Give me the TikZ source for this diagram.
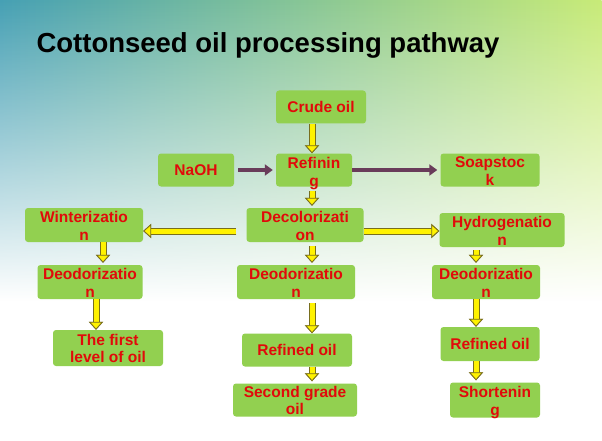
\documentclass[tikz,border=0pt]{standalone}
\usepackage{fontspec}
\setmainfont{Liberation Sans}
\usetikzlibrary{arrows.meta,fadings}
\definecolor{boxg}{RGB}{146,208,80}
\definecolor{txtr}{RGB}{225,10,10}
\definecolor{olv}{RGB}{120,110,30}
\definecolor{pur}{RGB}{105,60,90}
\tikzset{
  box/.style={draw=none,fill=boxg,rounded corners=3pt,inner sep=0pt,font=\bfseries\fontsize{15.5}{17}\selectfont,text=txtr,align=center},
  two/.style={label={[anchor=north,yshift=0pt,font=\bfseries\fontsize{15.5}{18}\selectfont,text=txtr,align=center]north:#1}},
  yarrow/.style={draw=yellow,line width=5pt,-{Triangle[length=8pt,width=14pt,fill=yellow,color=olv,line width=0.8pt]},
    preaction={draw=olv,line width=7pt,-{Triangle[length=8pt,width=14pt]}}},
  parrow/.style={draw=pur,line width=4pt,-{Triangle[length=8pt,width=11pt]}}
}
\begin{document}
\begin{tikzpicture}[x=1pt,y=-1pt]
\useasboundingbox (0,0) rectangle (602,441);
\fill[white] (0,0) rectangle (602,441);
\shade[left color={rgb,255:red,70;green,160;blue,180},right color={rgb,255:red,200;green,235;blue,120},path fading=south] (0,0) rectangle (602,300);
\node[anchor=west,font=\bfseries\fontsize{27.5}{30}\selectfont] (title) at (33,45) {Cottonseed oil processing pathway};
% boxes
\node[box,minimum width=90pt,minimum height=33pt] (crude) at (321,107) {Crude oil};
\node[box,minimum width=76pt,minimum height=33pt] (naoh) at (196,170) {NaOH};
\node[box,minimum width=76pt,minimum height=33pt,two={Refinin\\g}] (ref) at (314,170) {};
\node[box,minimum width=99pt,minimum height=33pt,two={Soapstoc\\k}] (soap) at (490,170) {};
\node[box,minimum width=117pt,minimum height=34pt,two={Decolorizati\\on}] (dec) at (305,225) {};
\node[box,minimum width=125pt,minimum height=34pt,two={Hydrogenatio\\n}] (hyd) at (502,230) {};
\node[box,minimum width=118pt,minimum height=34pt,two={Winterizatio\\n}] (win) at (84,225) {};
\node[box,minimum width=105pt,minimum height=34pt,two={Deodorizatio\\n}] (deoL) at (90,282) {};
\node[box,minimum width=118pt,minimum height=34pt,two={Deodorizatio\\n}] (deoM) at (296,282) {};
\node[box,minimum width=108pt,minimum height=34pt,two={Deodorizatio\\n}] (deoR) at (486,282) {};
\node[box,minimum width=110pt,minimum height=36pt] (first) at (108,348) {The first\\level of oil};
\node[box,minimum width=110pt,minimum height=33pt] (refM) at (297,350) {Refined oil};
\node[box,minimum width=99pt,minimum height=34pt] (refR) at (490,344) {Refined oil};
\node[box,minimum width=124pt,minimum height=33pt] (sec) at (295,400) {Second grade\\oil};
\node[box,minimum width=90pt,minimum height=35pt,two={Shortenin\\g}] (short) at (495,400) {};
% arrow columns
\coordinate (xm) at (312,0);
\coordinate (xl) at (103,0);
\coordinate (xl2) at (96,0);
\coordinate (xr) at (476,0);
\coordinate (yh) at (0,231);
% arrows
\draw[yarrow] (crude.south -| xm) -- (ref.north -| xm);
\draw[yarrow] ([yshift=-4pt]ref.south -| xm) -- ([yshift=2pt]dec.north -| xm);
\draw[yarrow] ([yshift=-4pt]dec.south -| xm) -- ([yshift=2pt]deoM.north -| xm);
\draw[yarrow] ([xshift=-10pt]dec.west |- yh) -- (win.east |- yh);
\draw[yarrow] (dec.east |- yh) -- (hyd.west |- yh);
\draw[yarrow] ([yshift=-3pt]hyd.south -| xr) -- ([yshift=2pt]deoR.north -| xr);
\draw[yarrow] (win.south -| xl) -- ([yshift=2pt]deoL.north -| xl);
\draw[yarrow] (deoL.south -| xl2) -- (first.north -| xl2);
\draw[yarrow] ([yshift=-4pt]deoM.south -| xm) -- (refM.north -| xm);
\draw[yarrow] (refM.south -| xm) -- ([yshift=2pt]sec.north -| xm);
\draw[yarrow] (deoR.south -| xr) -- (refR.north -| xr);
\draw[yarrow] (refR.south -| xr) -- ([yshift=2pt]short.north -| xr);
\draw[parrow] ([xshift=4pt]naoh.east) -- ([xshift=-3pt]ref.west);
\draw[parrow] (ref.east) -- ([xshift=-3pt]soap.west);
\end{tikzpicture}
\end{document}
